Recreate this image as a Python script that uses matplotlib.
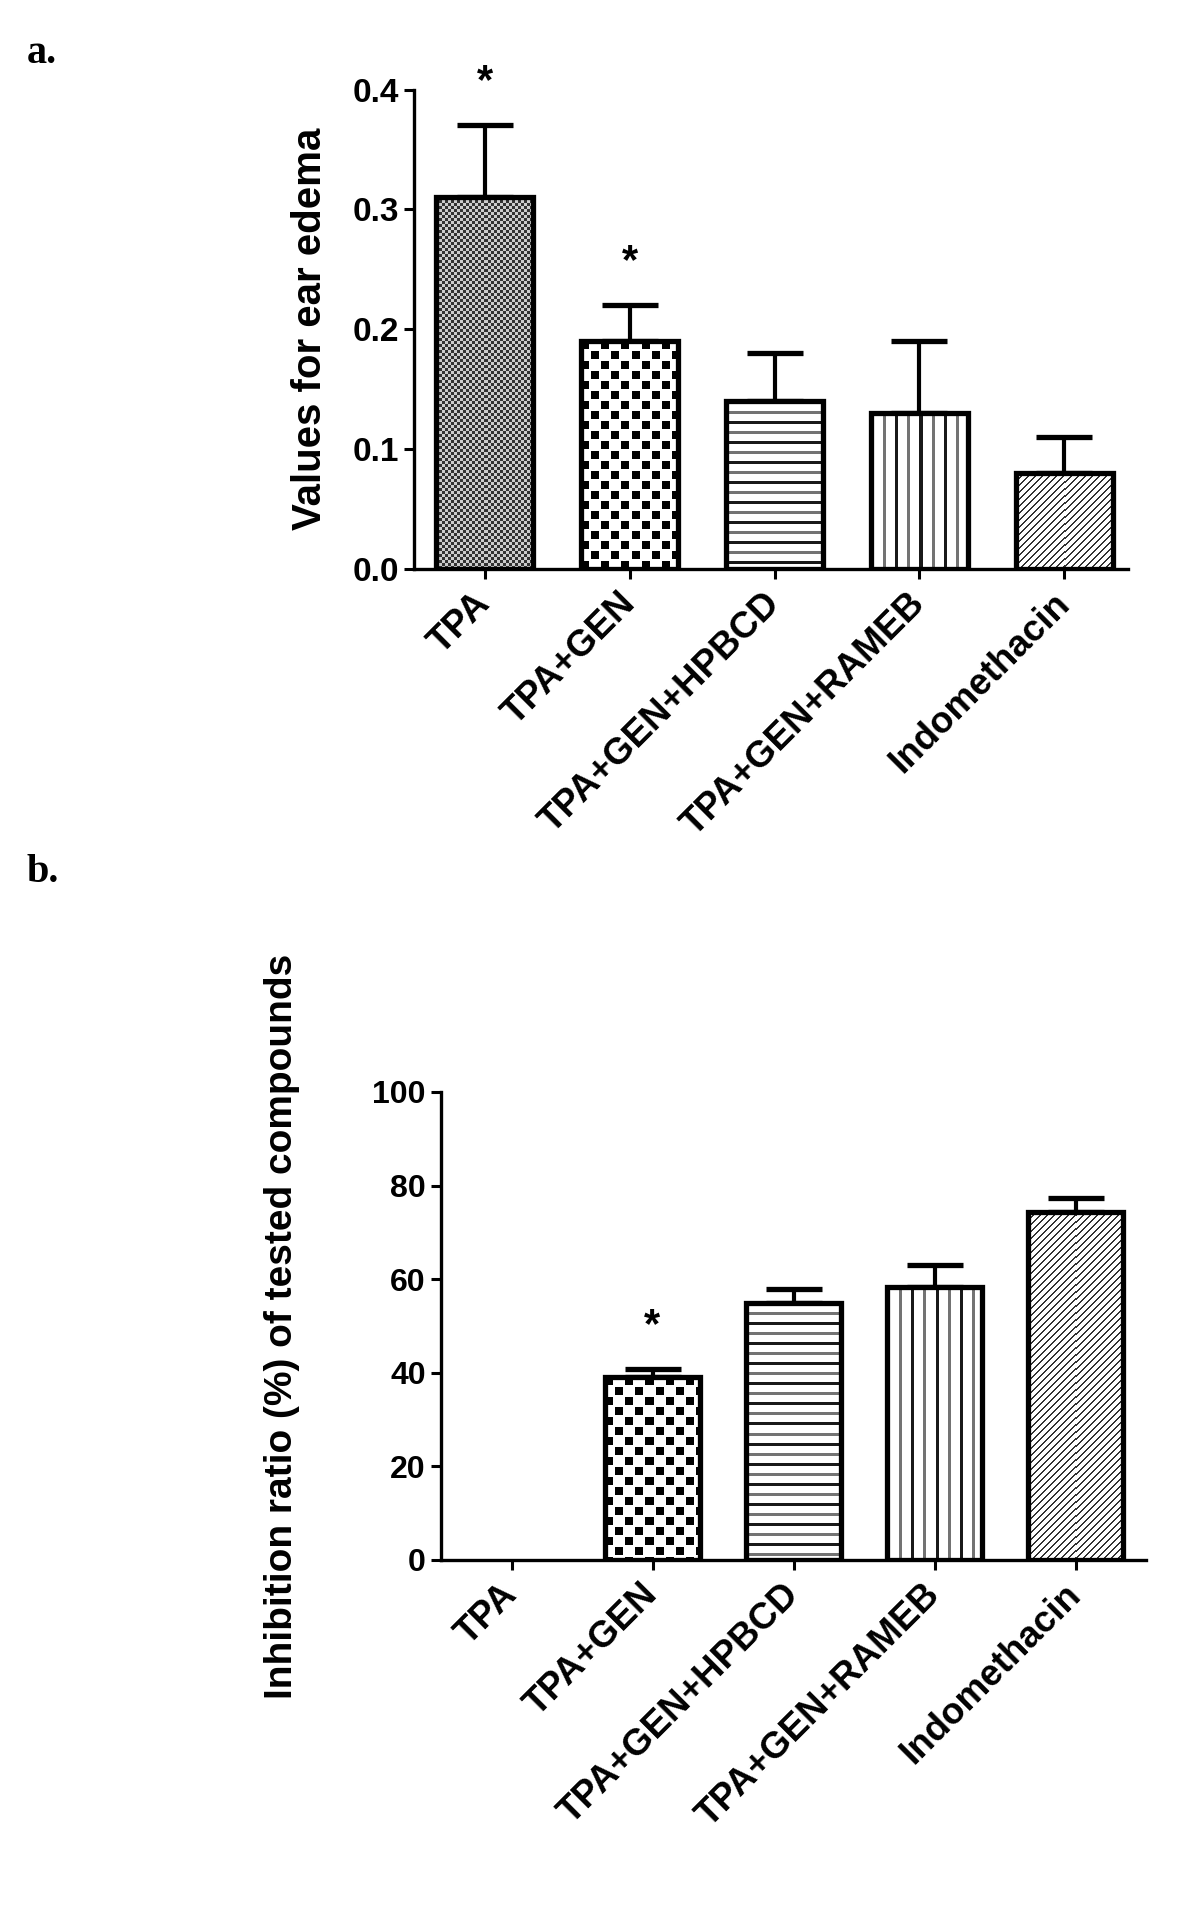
import numpy as np
import matplotlib
matplotlib.use("Agg")
import matplotlib.pyplot as plt

plt.rcParams['font.family'] = ['Liberation Sans', 'DejaVu Sans']
plt.rcParams['font.weight'] = 'bold'
plt.rcParams['axes.labelweight'] = 'bold'

groups = ['TPA', 'TPA+GEN', 'TPA+GEN+HPBCD', 'TPA+GEN+RAMEB', 'Indomethacin']

# panel a: ear edema values (mean, upper SEM)
edema_mean = [0.31, 0.19, 0.14, 0.13, 0.08]
edema_sem = [0.06, 0.03, 0.04, 0.06, 0.03]
edema_sig = [True, True, False, False, False]

# panel b: inhibition ratio (%)
inhib_mean = [0, 39, 55, 58.3, 74.3]
inhib_sem = [0, 1.9, 2.8, 4.7, 3.0]
inhib_sig = [False, True, False, False, False]

patterns = ['fine', 'check', 'hlines', 'vlines', 'diag']


def texture(kind, w, h):
    r, c = np.mgrid[0:h, 0:w]
    img = np.ones((h, w))
    if kind == 'fine':
        img = np.where((r // 3 + c // 3) % 2 == 0, 0.2, 0.8)
    elif kind == 'check':
        on = ((r // 10 + c // 10) % 2 == 0) & (r % 10 < 8) & (c % 10 < 8)
        img = np.where(on, 0.0, 1.0)
    elif kind == 'hlines':
        k = r // 10
        img = np.where(r % 10 < 3, np.where(k % 2 == 0, 0.1, 0.45), 1.0)
    elif kind == 'vlines':
        k = c // 12
        img = np.where(c % 12 < 3, np.where(k % 2 == 0, 0.1, 0.45), 1.0)
    elif kind == 'diag':
        img = np.where((r + c) % 7 < 2, 0.2, 1.0)
    return img


def draw_panel(ax, means, sems, sig, ymax, yticks, fmt, xlim, ticksize):
    x = np.arange(len(groups))
    ax.set_xlim(*xlim)
    ax.set_ylim(0, ymax)
    bars = ax.bar(x, means, width=0.67, facecolor='none', edgecolor='black',
                  linewidth=3.8, zorder=3)
    for bar, kind in zip(bars, patterns):
        if bar.get_height() <= 0:
            bar.set_linewidth(0)
            continue
        x0, y0 = bar.get_x(), bar.get_y()
        x1, y1 = x0 + bar.get_width(), y0 + bar.get_height()
        (px0, py0), (px1, py1) = ax.transData.transform([(x0, y0), (x1, y1)])
        w, h = int(round(px1 - px0)), int(round(py1 - py0))
        im = ax.imshow(texture(kind, w, h), cmap='gray', vmin=0, vmax=1,
                       extent=(x0, x1, y0, y1), aspect='auto',
                       interpolation='nearest', zorder=2)
        im.set_clip_path(bar)
    means = np.array(means, dtype=float)
    sems = np.array(sems, dtype=float)
    m = sems > 0
    ax.errorbar(x[m], means[m], yerr=[np.zeros(m.sum()), sems[m]], fmt='none',
                ecolor='black', elinewidth=3, capsize=20, capthick=3.8, zorder=1)
    for xi, mi, si, s in zip(x, means, sems, sig):
        if s:
            ax.text(xi, mi + si + 0.09 * ymax, '*', ha='center', va='center',
                    fontsize=30, clip_on=False)
    ax.set_xlim(*xlim)
    ax.set_ylim(0, ymax)
    for side in ['top', 'right']:
        ax.spines[side].set_visible(False)
    for side in ['left', 'bottom']:
        ax.spines[side].set_linewidth(2.4)
    ax.set_yticks(yticks, [fmt.format(t) for t in yticks])
    ax.set_xticks(x, groups, rotation=45, ha='right', va='center',
                  rotation_mode='anchor', fontsize=26.5)
    ax.tick_params(axis='both', width=2.2, length=7, color='black')
    ax.tick_params(axis='y', labelsize=ticksize, pad=4)
    ax.tick_params(axis='x', pad=14)


fig = plt.figure(figsize=(12, 19.22), dpi=100)

ax1 = fig.add_axes([0.345, 0.70395, 0.595, 0.24948])
draw_panel(ax1, edema_mean, edema_sem, edema_sig, 0.4,
           [0.0, 0.1, 0.2, 0.3, 0.4], '{:.1f}', (-0.49, 4.44), 24)
ax1.set_ylabel('Values for ear edema', fontsize=29, va='center')
ax1.yaxis.set_label_coords(-0.146, 0.5)

ax2 = fig.add_axes([0.3675, 0.18835, 0.5875, 0.2435])
draw_panel(ax2, inhib_mean, inhib_sem, inhib_sig, 100,
           [0, 20, 40, 60, 80, 100], '{:d}', (-0.5, 4.5), 23)
ax2.set_ylabel('Inhibition ratio (%) of tested compounds', fontsize=28, va='center')
ax2.yaxis.set_label_coords(-0.226, 0.5)

fig.text(27 / 1200, 1 - 63 / 1922, 'a.', family='Liberation Serif',
         weight='bold', fontsize=29, va='baseline')
fig.text(27 / 1200, 1 - 882 / 1922, 'b.', family='Liberation Serif',
         weight='bold', fontsize=29, va='baseline')

fig.savefig('out.png', dpi=100)
